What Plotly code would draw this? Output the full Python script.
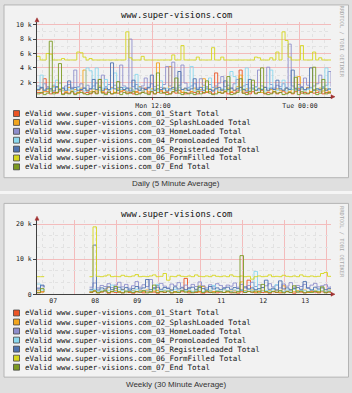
import plotly.graph_objects as go
import pandas as pd

W, H = 352, 393

series_names = [
    "eValid www.super-visions.com_01_Start Total",
    "eValid www.super-visions.com_02_SplashLoaded Total",
    "eValid www.super-visions.com_03_HomeLoaded Total",
    "eValid www.super-visions.com_04_PromoLoaded Total",
    "eValid www.super-visions.com_05_RegisterLoaded Total",
    "eValid www.super-visions.com_06_FormFilled Total",
    "eValid www.super-visions.com_07_End Total",
]
series_colors = ["#ec5424", "#f2a51e", "#8e8ecc", "#8ad8ee", "#4f73b0", "#d6d61c", "#7c9a22"]

chart_title = "www.super-visions.com"
daily_caption = "Daily (5 Minute Average)"
weekly_caption = "Weekly (30 Minute Average)"
watermark = "RRDTOOL / TOBI OETIKER"

# ---------------- daily data (values in thousands), 15-minute steps ----------------
daily_start = "2009-04-13 02:32"
daily_step = "15min"
daily_tickvals = ["2009-04-13 06:00", "2009-04-13 12:00", "2009-04-13 18:00", "2009-04-14 00:00"]
daily_ticktext = ["", "Mon 12:00", "", "Tue 00:00"]
daily_yticks = [2, 4, 6, 8, 10]
daily_yticktext = ["2 k", "4 k", "6 k", "8 k", "10 k"]

daily_01 = [0.6,0.5,2.5,0.7,0.4,0.6,0.5,0.8,0.4,0.6, 0.5,0.7,0.4,0.6,0.9,0.5,0.6,0.4,0.7,0.5,
            2.4,0.6,0.5,0.8,0.4,0.6,0.5,0.7,0.9,0.5, 0.6,0.4,0.7,0.5,0.6,1.2,0.5,0.7,0.4,0.6,
            0.8,0.5,0.6,0.4,0.7,0.5,0.9,0.6,0.4,0.5, 0.7,0.6,0.4,0.8,0.5,0.6,0.7,0.4,3.3,0.6,
            0.5,0.7,0.4,0.6,0.5,0.8,3.7,0.5,0.6,0.4, 0.7,0.5,0.6,0.9,0.4,0.6,0.5,0.7,0.4,0.6,
            0.8,0.5,0.6,0.4,0.7,1.1,0.5,0.6,0.4,0.7, 0.5,0.6,0.8,0.4,0.6,0.5,0.6]
daily_02 = [0.9,1.2,0.7,1.0,0.8,1.4,0.6,1.1,0.9,0.7, 1.3,0.8,1.0,0.6,1.2,3.7,0.9,0.7,1.1,0.8,
            1.5,0.7,1.0,0.9,1.3,0.6,1.1,0.8,1.0,0.7, 1.2,0.9,0.6,1.4,0.8,1.0,0.7,1.1,0.9,4.7,
            0.8,1.2,0.7,4.2,1.0,0.8,1.3,0.6,1.1,0.9, 0.7,1.2,0.8,1.0,2.5,0.7,1.1,0.9,1.3,0.6,
            1.0,0.8,1.2,0.7,0.9,1.4,3.0,0.8,1.1,0.7, 1.0,0.9,1.2,0.6,1.3,0.8,1.0,0.7,1.1,0.9,
            0.8,1.2,0.7,1.0,0.9,2.8,1.1,0.8,1.3,0.7, 1.0,0.9,1.2,0.8,1.1,0.7,0.9]
daily_03 = [1.5,1.2,1.8,1.4,1.1,1.6,1.3,1.9,1.2,1.5, 1.7,1.3,3.7,1.4,1.8,1.2,1.6,1.1,1.5,1.9,
            1.3,3.0,1.4,1.7,1.2,1.6,1.3,4.4,1.5,1.2, 8.0,1.4,1.7,1.3,1.5,2.6,1.2,1.8,1.4,1.6,
            1.3,1.7,4.2,1.5,4.8,1.2,1.6,4.4,1.9,1.3, 1.5,1.8,1.2,2.5,1.6,1.4,1.7,1.3,1.5,1.9,
            2.8,1.4,1.6,1.2,1.8,2.4,1.3,1.5,1.7,1.2, 1.6,1.4,3.7,1.5,1.3,4.1,1.7,1.2,1.6,1.4,
            1.8,1.3,7.3,1.5,1.2,1.7,1.4,2.6,1.6,1.3, 1.5,1.8,3.0,1.4,1.6,3.5,1.4]
daily_04 = [1.2,3.0,0.9,1.1,0.8,1.3,2.3,1.0,0.8,1.2, 0.9,1.1,0.7,1.3,1.0,0.8,4.0,3.6,1.1,4.0,
            0.9,1.2,2.4,0.8,1.1,3.3,0.9,1.0,1.3,0.8, 1.1,0.9,3.1,1.2,0.8,1.0,1.3,0.9,1.1,0.8,
            2.2,1.0,1.2,0.9,1.1,0.8,1.3,1.0,0.9,1.2, 4.2,0.8,1.1,0.9,1.3,1.0,2.6,0.8,1.2,0.9,
            1.1,1.0,0.8,3.5,2.8,1.2,0.9,1.1,4.0,0.8, 1.0,1.3,0.9,1.1,0.8,1.2,3.7,1.0,0.9,1.1,
            2.3,0.8,1.2,1.0,0.9,1.3,1.1,0.8,1.0,1.2, 0.9,1.1,0.8,1.3,4.0,1.0,1.1]
daily_05 = [1.0,1.3,0.9,1.2,1.1,0.8,1.4,1.0,1.2,0.9, 2.2,1.1,1.3,0.9,1.0,1.2,0.8,1.1,2.4,1.0,
            1.3,0.9,1.2,1.0,4.7,1.1,0.9,1.3,1.0,1.2, 0.8,2.3,1.1,0.9,1.2,1.0,1.3,3.0,0.9,1.1,
            1.0,1.2,0.8,1.1,1.3,0.9,3.5,1.0,1.2,0.9, 1.1,2.5,1.0,1.3,0.9,1.2,1.0,0.8,1.1,1.3,
            0.9,2.2,1.0,1.2,0.9,1.1,1.3,1.0,0.8,2.4, 1.2,0.9,1.1,1.0,1.3,0.9,1.2,1.0,2.3,1.1,
            0.9,1.2,1.0,3.7,1.1,0.9,1.3,1.0,1.2,4.0, 0.9,1.1,1.0,1.2,0.9,1.1,1.0]
daily_06 = [5.6,5.1,5.1,6.0,5.9,5.1,5.1,5.1,5.3,5.1, 5.1,5.1,5.1,6.2,6.1,5.5,5.1,5.3,5.1,5.1,
            5.1,5.1,5.1,5.1,5.1,5.1,5.1,5.1,5.1,9.0, 5.4,5.1,5.1,5.1,5.6,5.1,5.1,5.1,5.1,5.1,
            5.1,5.1,5.1,5.1,5.8,5.1,5.1,7.1,5.1,5.1, 5.1,5.1,5.5,5.1,5.1,5.1,5.1,6.8,5.1,5.1,
            5.5,5.1,5.1,5.1,5.1,5.1,5.1,5.1,5.1,5.1, 5.1,5.5,5.4,5.1,5.1,5.1,5.4,5.1,6.2,5.1,
            9.0,7.8,5.5,5.1,5.1,5.1,7.1,5.1,5.1,5.1, 6.2,5.1,5.4,5.1,5.1,5.1,5.1]
daily_07 = [0.4,0.6,0.3,0.5,7.7,0.4,0.6,4.6,0.3,0.5, 0.4,0.7,0.3,0.5,0.6,0.4,0.3,0.5,0.7,0.4,
            2.4,0.5,0.3,0.6,0.4,0.5,2.1,0.3,0.6,0.4, 0.5,0.7,0.3,0.4,0.6,0.5,0.3,0.7,0.4,3.3,
            0.5,0.6,0.3,0.4,0.7,2.6,0.5,0.3,0.6,0.4, 0.5,0.3,0.7,0.4,0.6,2.2,0.5,0.3,0.4,0.6,
            0.5,0.7,2.8,0.3,0.4,0.6,2.5,0.5,0.3,0.7, 2.3,0.4,0.6,4.0,0.5,0.3,0.4,0.7,0.5,0.6,
            0.3,0.4,0.6,0.5,2.7,0.3,0.7,0.4,0.5,0.6, 4.1,0.3,0.5,2.4,0.4,0.6,0.5]

# ---------------- weekly data (values in thousands), 2-hour steps ----------------
weekly_start = "2009-04-07 02:45"
weekly_step = "2h"
weekly_days = ["07", "08", "09", "10", "11", "12", "13"]
weekly_yticks = [0, 10, 20]
weekly_yticktext = ["0", "10 k", "20 k"]

weekly_01 = [0.4, 0.7, 0.6] + [None] * 12 + [
    0.5,0.9,0.4,0.6,0.8,0.3,0.7,0.5,0.6,0.4, 0.8,0.5,0.3,0.7,0.6,0.4,0.9,0.5,0.6,0.3,
    0.7,0.5,0.8,0.4,0.6,0.5,0.7,4.5,0.4,0.6, 0.5,0.8,0.3,0.6,0.5,0.7,0.4,0.6,0.5,0.8,
    0.4,0.6,0.3,0.7,0.5,4.0,0.6,0.4,0.8,0.5, 0.6,0.3,0.7,0.5,0.4,0.6,0.8,0.5,0.3,0.7,
    0.6,0.4,0.5,0.8,0.6,0.4,0.7,0.5,0.6,0.5]
weekly_02 = [1.0, 0.6, 0.8] + [None] * 12 + [
    0.8,1.1,0.6,0.9,1.2,2.0,0.7,1.0,0.8,1.3, 0.6,0.9,1.1,0.7,1.0,0.8,1.2,0.6,0.9,1.1,
    0.7,1.0,0.8,1.2,0.6,0.9,1.1,0.7,1.0,0.8, 1.2,0.6,2.2,0.9,1.1,0.7,1.0,0.8,1.3,0.6,
    0.9,1.1,0.7,3.5,1.0,0.8,1.2,0.6,0.9,1.1, 0.7,1.0,0.8,1.2,0.6,2.4,0.9,1.1,0.7,1.0,
    0.8,1.2,0.6,0.9,1.1,0.7,1.0,0.8,1.2,0.9]
weekly_03 = [1.8, 2.4, 2.0] + [None] * 12 + [
    2.0,3.2,1.8,2.5,2.2,3.0,1.9,2.6,3.4,2.1, 2.8,1.7,2.4,3.6,2.0,2.7,2.2,4.2,1.9,2.5,
    3.1,2.3,1.8,2.9,2.4,3.3,2.0,2.6,1.9,2.8, 2.2,3.5,2.4,1.8,2.7,2.1,3.0,2.5,1.9,2.6,
    2.3,3.2,2.0,2.8,1.8,2.5,3.4,2.2,2.7,1.9, 2.4,3.0,2.1,2.6,1.8,2.9,2.3,3.3,2.0,2.5,
    2.2,2.8,1.9,2.6,3.1,2.1,2.4,2.7,2.0,2.3]
weekly_04 = [2.9, 1.2, 1.5] + [None] * 12 + [
    1.0,1.4,0.7,1.2,0.9,1.1,2.6,0.8,1.3,1.0, 0.7,1.2,0.9,1.4,0.8,1.1,1.0,0.7,1.3,2.8,
    0.9,1.2,0.8,1.0,1.4,0.7,1.1,0.9,1.3,0.8, 1.0,1.2,0.7,1.4,0.9,2.5,1.1,0.8,1.3,1.0,
    0.7,1.2,0.9,1.1,0.8,1.4,1.0,6.5,1.2,0.9, 1.1,0.7,1.3,2.7,1.0,0.8,1.2,0.9,1.4,0.7,
    1.1,1.0,0.8,1.3,0.9,1.2,1.0,0.7,1.1,1.0]
weekly_05 = [1.5, 2.6, 1.9] + [None] * 12 + [
    1.4,14.0,1.2,1.8,1.5,2.1,1.3,1.7,2.0,1.4, 1.9,1.2,1.6,2.2,1.5,1.8,4.2,1.3,1.7,2.0,
    1.4,1.9,1.6,1.2,2.1,1.5,1.8,1.3,1.7,2.0, 1.4,1.9,1.6,1.2,2.2,1.5,1.8,1.3,1.7,2.0,
    1.4,1.9,1.6,1.2,2.1,1.5,1.8,1.3,1.6,1.9, 4.0,1.4,1.7,1.2,3.8,1.5,1.8,1.3,1.6,1.9,
    1.4,3.6,1.7,1.2,2.0,1.5,1.8,1.3,1.6,1.7]
weekly_06 = [5.0, 5.0, 5.1] + [None] * 12 + [
    5.0,19.2,5.1,5.0,5.2,5.5,5.0,5.1,5.0,5.4, 5.1,5.0,5.2,5.6,5.0,5.1,5.0,5.2,5.5,5.0,
    5.1,5.9,4.0,5.1,5.0,5.4,5.1,5.0,5.2,5.0, 5.5,5.1,5.0,5.2,5.0,5.4,5.1,5.0,5.2,5.0,
    5.5,5.1,5.0,5.2,5.0,5.1,4.3,5.0,5.2,5.0, 5.1,5.5,5.0,5.1,5.0,5.4,5.1,5.0,5.2,5.0,
    5.5,5.1,5.0,5.2,5.0,5.1,5.9,6.2,5.1,5.0]
weekly_07 = [0.5, 1.6, 0.7] + [None] * 12 + [
    0.6,0.9,0.4,0.7,1.0,0.5,0.8,2.2,0.6,0.4, 0.9,0.7,0.5,0.8,0.6,1.0,0.4,0.7,2.6,0.5,
    0.8,0.6,0.9,0.4,0.7,0.5,1.0,0.6,0.8,0.4, 0.7,2.3,0.5,0.9,0.6,0.4,0.8,0.7,0.5,0.9,
    0.6,0.4,0.7,11.0,0.5,0.8,0.6,0.9,0.4,2.8, 0.7,0.5,0.8,0.6,1.0,0.4,0.7,0.5,2.4,0.6,
    0.9,0.4,0.7,0.5,0.8,0.6,2.1,0.4,0.7,0.6]

daily_series = [daily_01, daily_02, daily_03, daily_04, daily_05, daily_06, daily_07]
weekly_series = [weekly_01, weekly_02, weekly_03, weekly_04, weekly_05, weekly_06, weekly_07]

daily_t = pd.date_range(daily_start, periods=len(daily_01), freq=daily_step)
weekly_t = pd.date_range(weekly_start, periods=len(weekly_01), freq=weekly_step)
daily_end = pd.Timestamp(daily_start) + pd.Timedelta(hours=24)
weekly_end = pd.Timestamp(weekly_start) + pd.Timedelta(days=7)

# ---------------- layout helpers (pixel -> paper) ----------------
def fx(x):
    return x / W

def fy(y):
    return 1 - y / H

MAJOR = "#f3bcbc"
MINOR = "#e2e2e2"
AXIS = "#404040"
MONO = "DejaVu Sans Mono"

fig = go.Figure()
for vals, name, col in zip(daily_series, series_names, series_colors):
    fig.add_trace(go.Scatter(x=daily_t, y=vals, mode="lines", name=name,
                             line=dict(color=col, width=0.9, shape="hv"),
                             xaxis="x", yaxis="y", showlegend=False, hoverinfo="skip"))
for vals, name, col in zip(weekly_series, series_names, series_colors):
    fig.add_trace(go.Scatter(x=weekly_t, y=vals, mode="lines", name=name,
                             line=dict(color=col, width=0.9, shape="hv"),
                             xaxis="x2", yaxis="y2", showlegend=False, hoverinfo="skip",
                             connectgaps=False))

tickfont = dict(family=MONO, size=6.5, color="#222")

weekly_tickvals, weekly_ticktext = [], []
for d in weekly_days:
    for h in (6, 12, 18):
        weekly_tickvals.append(f"2009-04-{d} {h:02d}:00")
        weekly_ticktext.append(d if h == 12 else "")

fig.update_layout(
    width=W, height=H, margin=dict(l=0, r=0, t=0, b=0),
    paper_bgcolor="#dfdfdf", plot_bgcolor="white", showlegend=False,
    xaxis=dict(type="date", domain=[fx(37), fx(331)], anchor="y",
               range=[pd.Timestamp(daily_start), daily_end],
               tickmode="array", tickvals=daily_tickvals, ticktext=daily_ticktext,
               showgrid=True, gridcolor=MAJOR, gridwidth=1, griddash="solid",
               minor=dict(dtick=3600000, tick0="2009-04-13 00:00", showgrid=True,
                          gridcolor=MINOR, griddash="dot", ticks=""),
               showline=True, linecolor=AXIS, linewidth=1, ticks="outside", ticklen=2,
               tickcolor="#c04040", tickfont=tickfont, zeroline=False, fixedrange=True),
    yaxis=dict(domain=[fy(97), fy(21)], anchor="x", range=[0, 10.4],
               tickmode="array", tickvals=daily_yticks, ticktext=daily_yticktext,
               showgrid=True, gridcolor=MAJOR, gridwidth=1, griddash="solid",
               minor=dict(dtick=1, tick0=0, showgrid=True, gridcolor=MINOR,
                          griddash="dot", ticks=""),
               showline=True, linecolor=AXIS, linewidth=1, ticks="outside", ticklen=3,
               tickcolor=AXIS, tickfont=tickfont, zeroline=False, fixedrange=True),
    xaxis2=dict(type="date", domain=[fx(37), fx(331)], anchor="y2",
                range=[pd.Timestamp(weekly_start), weekly_end],
                tickmode="array", tickvals=weekly_tickvals, ticktext=weekly_ticktext,
                showgrid=True, gridcolor=MINOR, griddash="dot", gridwidth=1,
                minor=dict(dtick=86400000, tick0="2009-04-07 00:00", showgrid=True,
                           gridcolor=MAJOR, griddash="solid", gridwidth=1, ticks=""),
                showline=True, linecolor=AXIS, linewidth=1, ticks="",
                tickfont=tickfont, zeroline=False, fixedrange=True),
    yaxis2=dict(domain=[fy(297), fy(222)], anchor="x2", range=[0, 21.1],
                tickmode="array", tickvals=weekly_yticks, ticktext=weekly_yticktext,
                showgrid=True, gridcolor=MAJOR, gridwidth=1, griddash="solid",
                minor=dict(dtick=10 / 3, tick0=0, showgrid=True, gridcolor=MINOR,
                           griddash="dot", ticks=""),
                showline=True, linecolor=AXIS, linewidth=1, ticks="outside", ticklen=3,
                tickcolor=AXIS, tickfont=tickfont, zeroline=False, fixedrange=True),
)

shapes = []
annotations = []

# background bands and panels
shapes.append(dict(type="rect", xref="paper", yref="paper", x0=0, x1=1, y0=fy(195.5), y1=fy(192.5),
                   fillcolor="#f5f5f5", line=dict(width=0), layer="below"))
panels = [(4, 179, 14, 185, 114, daily_caption, 41), (205, 381, 216, 388, 316, weekly_caption, 244)]
for top, bot, title_y, cap_y, leg_y, caption, wm_y in panels:
    shapes.append(dict(type="rect", xref="paper", yref="paper", x0=fx(4), x1=fx(348.5),
                       y0=fy(bot), y1=fy(top), fillcolor="#f2f2f2",
                       line=dict(color="#b4b4b4", width=1), layer="below"))
    annotations.append(dict(text=chart_title, x=0.5, y=fy(title_y), xref="paper", yref="paper",
                            showarrow=False, xanchor="center", yanchor="middle",
                            font=dict(family=MONO, size=8.8, color="#111")))
    annotations.append(dict(text=caption, x=0.5, y=fy(cap_y), xref="paper", yref="paper",
                            showarrow=False, xanchor="center", yanchor="middle",
                            font=dict(family="Liberation Sans", size=8, color="#333")))
    annotations.append(dict(text=watermark, x=fx(342), y=fy(wm_y), xref="paper", yref="paper",
                            showarrow=False, textangle=90, xanchor="center", yanchor="middle",
                            font=dict(family=MONO, size=5.4, color="#a8a8a8")))
    step = 9.0 if top < 100 else 9.15
    for k, (name, col) in enumerate(zip(series_names, series_colors)):
        yc = leg_y + step * k
        shapes.append(dict(type="rect", xref="paper", yref="paper",
                           x0=fx(13.5), x1=fx(19.5), y0=fy(yc + 3), y1=fy(yc - 3),
                           fillcolor=col, line=dict(color="#444", width=0.8)))
        annotations.append(dict(text=name, x=fx(22.5), y=fy(yc), xref="paper", yref="paper",
                                showarrow=False, xanchor="left", yanchor="middle",
                                font=dict(family=MONO, size=7.5, color="#111")))

# axis arrow heads
for ytop, ybot in [(21, 97), (222, 297)]:
    shapes.append(dict(type="path", xref="paper", yref="paper",
                       path=f"M {fx(35)} {fy(ytop)} L {fx(39)} {fy(ytop)} L {fx(37)} {fy(ytop-4)} Z",
                       fillcolor="#a03030", line=dict(color="#a03030", width=0.5)))
    shapes.append(dict(type="path", xref="paper", yref="paper",
                       path=f"M {fx(331)} {fy(ybot-2)} L {fx(331)} {fy(ybot+2)} L {fx(335)} {fy(ybot)} Z",
                       fillcolor="#a03030", line=dict(color="#a03030", width=0.5)))

fig.update_layout(shapes=shapes, annotations=annotations)
fig.write_html("out.html")
